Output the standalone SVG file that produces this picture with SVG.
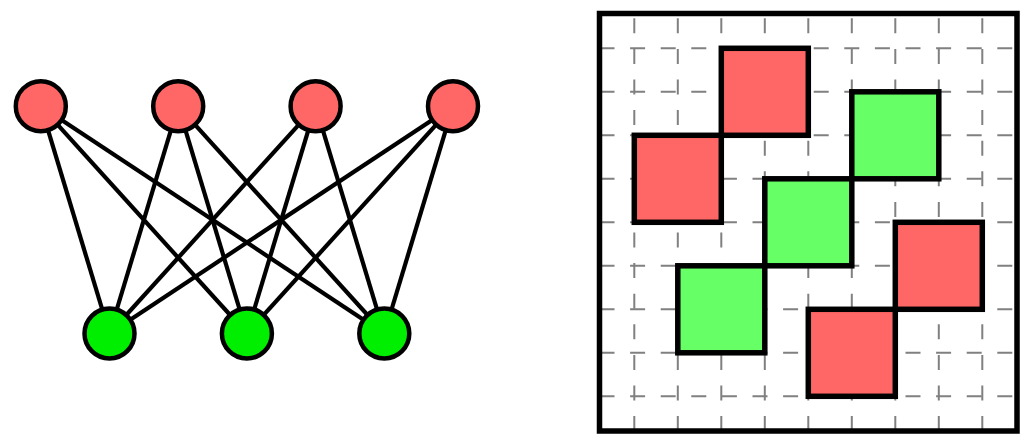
<svg xmlns="http://www.w3.org/2000/svg" width="1030" height="443" viewBox="0 0 1030 443">
  <style>
    .edge { stroke: #000; stroke-width: 4.2; stroke-linecap: butt; }
    .top { fill: #ff6666; stroke: #000; stroke-width: 4.5; }
    .bot { fill: #00ee00; stroke: #000; stroke-width: 4.5; }
    .hg { stroke: #808080; stroke-width: 2; stroke-dasharray: 15 15.6; }
    .vg { stroke: #808080; stroke-width: 2; stroke-dasharray: 15 15.6; stroke-dashoffset: 25.8; }
    .sqr { fill: #ff6666; stroke: #000; stroke-width: 5.5; }
    .sqg { fill: #66ff66; stroke: #000; stroke-width: 5.5; }
    .frame { fill: none; stroke: #000; stroke-width: 5.5; }
  </style>
  <rect width="1030" height="443" fill="#fff"/>
  <g id="connectors">
    <line class="edge" x1="40.8" y1="106.2" x2="109.5" y2="333.5"/>
    <line class="edge" x1="40.8" y1="106.2" x2="246.9" y2="333.5"/>
    <line class="edge" x1="40.8" y1="106.2" x2="384.3" y2="333.5"/>
    <line class="edge" x1="178.2" y1="106.2" x2="109.5" y2="333.5"/>
    <line class="edge" x1="178.2" y1="106.2" x2="246.9" y2="333.5"/>
    <line class="edge" x1="178.2" y1="106.2" x2="384.3" y2="333.5"/>
    <line class="edge" x1="315.6" y1="106.2" x2="109.5" y2="333.5"/>
    <line class="edge" x1="315.6" y1="106.2" x2="246.9" y2="333.5"/>
    <line class="edge" x1="315.6" y1="106.2" x2="384.3" y2="333.5"/>
    <line class="edge" x1="453" y1="106.2" x2="109.5" y2="333.5"/>
    <line class="edge" x1="453" y1="106.2" x2="246.9" y2="333.5"/>
    <line class="edge" x1="453" y1="106.2" x2="384.3" y2="333.5"/>
  </g>
  <g id="u1"><circle class="top" cx="40.8" cy="106.2" r="25"/></g>
  <g id="u2"><circle class="top" cx="178.2" cy="106.2" r="25"/></g>
  <g id="u3"><circle class="top" cx="315.6" cy="106.2" r="25"/></g>
  <g id="u4"><circle class="top" cx="453" cy="106.2" r="25"/></g>
  <g id="v1"><circle class="bot" cx="109.5" cy="333.5" r="25"/></g>
  <g id="v2"><circle class="bot" cx="246.9" cy="333.5" r="25"/></g>
  <g id="v3"><circle class="bot" cx="384.3" cy="333.5" r="25"/></g>

  <g id="board">
    <rect x="599.5" y="13.5" width="417.5" height="417.5" fill="#fff"/>
    <g id="grid">
      <line class="hg" x1="599.5" y1="48.3" x2="1017" y2="48.3"/>
      <line class="hg" x1="599.5" y1="91.8" x2="1017" y2="91.8"/>
      <line class="hg" x1="599.5" y1="135.3" x2="1017" y2="135.3"/>
      <line class="hg" x1="599.5" y1="178.8" x2="1017" y2="178.8"/>
      <line class="hg" x1="599.5" y1="222.3" x2="1017" y2="222.3"/>
      <line class="hg" x1="599.5" y1="265.8" x2="1017" y2="265.8"/>
      <line class="hg" x1="599.5" y1="309.3" x2="1017" y2="309.3"/>
      <line class="hg" x1="599.5" y1="352.8" x2="1017" y2="352.8"/>
      <line class="hg" x1="599.5" y1="396.3" x2="1017" y2="396.3"/>
      <line class="vg" x1="634.3" y1="13.5" x2="634.3" y2="431"/>
      <line class="vg" x1="677.8" y1="13.5" x2="677.8" y2="431"/>
      <line class="vg" x1="721.3" y1="13.5" x2="721.3" y2="431"/>
      <line class="vg" x1="764.8" y1="13.5" x2="764.8" y2="431"/>
      <line class="vg" x1="808.3" y1="13.5" x2="808.3" y2="431"/>
      <line class="vg" x1="851.8" y1="13.5" x2="851.8" y2="431"/>
      <line class="vg" x1="895.3" y1="13.5" x2="895.3" y2="431"/>
      <line class="vg" x1="938.8" y1="13.5" x2="938.8" y2="431"/>
      <line class="vg" x1="982.3" y1="13.5" x2="982.3" y2="431"/>
    </g>
    <rect class="sqr" x="721.3" y="48.3" width="87" height="87"/>
    <rect class="sqr" x="634.3" y="135.3" width="87" height="87"/>
    <rect class="sqg" x="851.8" y="91.8" width="87" height="87"/>
    <rect class="sqg" x="764.8" y="178.8" width="87" height="87"/>
    <rect class="sqg" x="677.8" y="265.8" width="87" height="87"/>
    <rect class="sqr" x="895.3" y="222.3" width="87" height="87"/>
    <rect class="sqr" x="808.3" y="309.3" width="87" height="87"/>
    <rect class="frame" x="599.5" y="13.5" width="417.5" height="417.5"/>
  </g>
</svg>
